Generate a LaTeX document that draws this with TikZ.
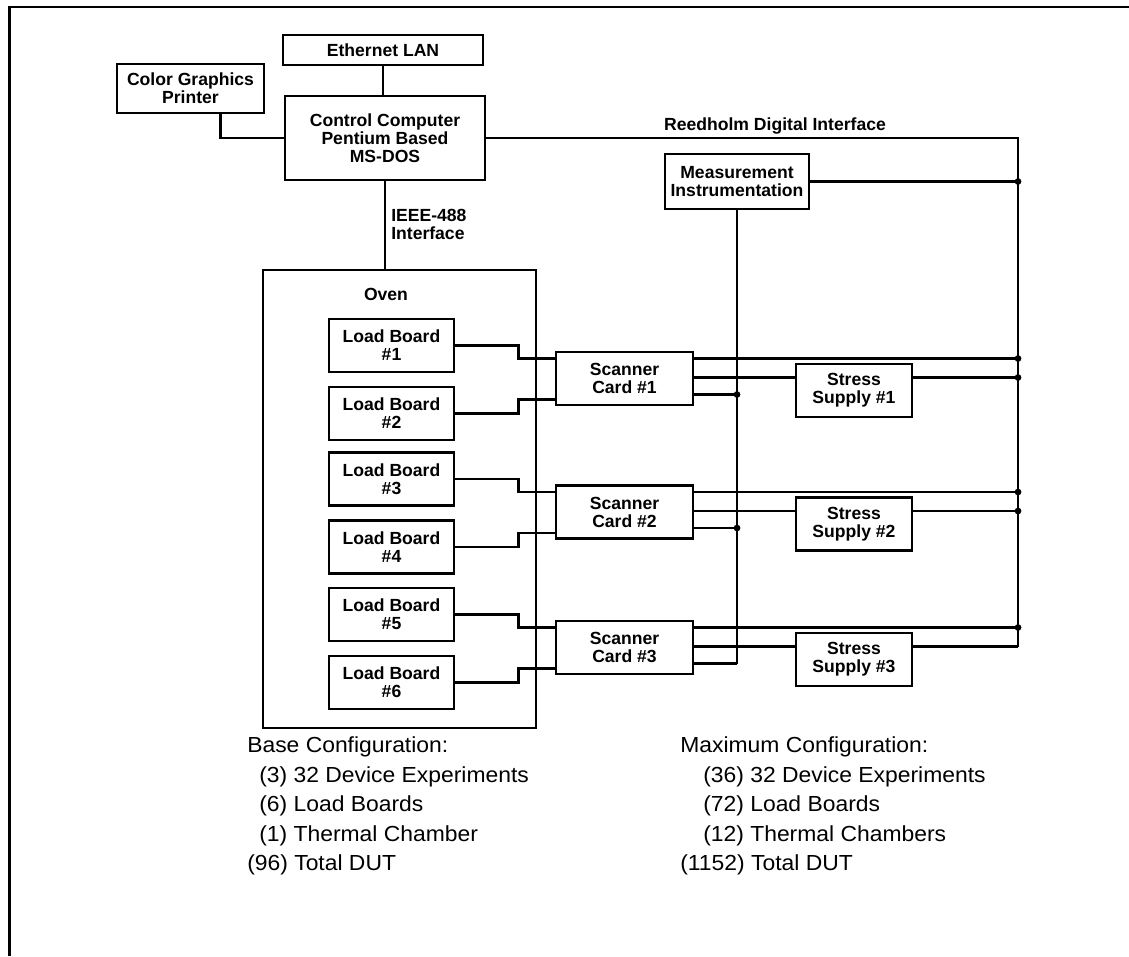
\documentclass[tikz,border=0pt]{standalone}
\usepackage{fontspec}
\setsansfont{Liberation Sans}
\newfontfamily\notefont[FakeStretch=1.05]{Liberation Sans}
\usetikzlibrary{calc}

\begin{document}
\begin{tikzpicture}[x=0.025cm, y=-0.025cm, line width=1.8pt,
  blk/.style={draw, align=center, inner sep=0pt,
    font=\sffamily\bfseries\fontsize{12.5}{12.8}\selectfont},
  lbl/.style={align=left, inner sep=0pt,
    font=\sffamily\bfseries\fontsize{12.5}{12.8}\selectfont},
  lbox/.style={blk, minimum width=3.125cm, minimum height=1.325cm},
  scbox/.style={blk, minimum width=3.425cm, minimum height=1.325cm},
  ssbox/.style={blk, minimum width=2.9cm, minimum height=1.325cm},
  note/.style={inner sep=0pt, anchor=base west,
    font=\notefont\fontsize{15.5}{18}\selectfont}]
  \useasboundingbox (0,0) rectangle (1129,956);
  % page frame
  \draw[line width=2pt] (9.5,956) -- (9.5,7) -- (1129,7);

  % top row
  \node[blk, minimum width=5cm, minimum height=0.75cm] (eth) at (383,50) {Ethernet LAN};
  \node[blk, minimum width=3.675cm, minimum height=1.225cm] (prn) at (190.5,88.5) {Color Graphics\\Printer};
  \node[blk, minimum width=5cm, minimum height=2.1cm] (cc) at (385,138) {Control Computer\\Pentium Based\\MS-DOS};
  \node[blk, minimum width=3.6cm, minimum height=1.375cm] (meas) at (737,181.5) {Measurement\\Instrumentation};
  \draw (eth.south) -- (eth.south |- cc.north);
  \draw ([xshift=0.75cm]prn.south) |- (cc.west);

  % oven
  \node[draw, minimum width=6.825cm, minimum height=11.45cm] (oven) at (399.5,499) {};
  \node[lbl] (ovenlbl) at (386,294) {Oven};
  \draw (cc.south) -- (cc.south |- oven.north);
  \node[lbl, anchor=west] (ieee) at (390,224) {IEEE-488\\Interface};

  % digital interface bus
  \coordinate (bus) at (1018,646.5);
  \draw (cc.east) -- (cc.east -| bus) -- (bus);
  \node[lbl] (rdi) at (775,126) {Reedholm Digital Interface};
  \draw (meas.east) -- (meas.east -| bus);
  \fill (meas.east -| bus) circle[radius=2.4pt];

  % load boards, scanner cards, stress supplies
  \foreach \k/\c in {1/378.5, 2/512, 3/647.5} {
    \pgfmathtruncatemacro\ua{2*\k-1}
    \pgfmathtruncatemacro\ub{2*\k}
    \node[lbox] (lb\ua) at (391.5,{\c-33}) {Load Board\\\#\ua};
    \node[lbox] (lb\ub) at (391.5,{\c+35}) {Load Board\\\#\ub};
    \node[scbox] (sc\k) at (624.5,\c) {Scanner\\Card \#\k};
    \node[ssbox] (ss\k) at (854,{\c+12}) {Stress\\Supply \#\k};
    \coordinate (sc\k-oa) at ($(sc\k.east)+(0,-20)$);
    \coordinate (sc\k-ob) at ($(sc\k.east)+(0,-1)$);
    \coordinate (sc\k-oc) at ($(sc\k.east)+(0,16)$);
    \coordinate (ss\k-p) at ($(ss\k.east)+(0,-13)$);
    \draw (lb\ua.east) -- ++(63,0) |- ($(sc\k.west)+(0,-20)$);
    \draw (lb\ub.east) -- ++(63,0) |- ($(sc\k.west)+(0,21)$);
    \draw (sc\k-oa) -- (sc\k-oa -| bus);
    \fill (sc\k-oa -| bus) circle[radius=2.4pt];
    \draw (sc\k-ob) -- (sc\k-ob -| ss\k.west);
    \draw (ss\k-p) -- (ss\k-p -| bus);
    \draw (sc\k-oc) -- (sc\k-oc -| meas);
  }
  \fill (ss1-p -| bus) circle[radius=2.4pt];
  \fill (ss2-p -| bus) circle[radius=2.4pt];
  \draw (meas.south) -- (meas.south |- sc3-oc);
  \fill (sc1-oc -| meas) circle[radius=2.4pt];
  \fill (sc2-oc -| meas) circle[radius=2.4pt];

  % configuration notes
  \foreach \x/\t [count=\i] in {246/Base Configuration:, 258/(3) 32 Device Experiments,
      258/(6) Load Boards, 258/(1) Thermal Chamber, 246/(96) Total DUT}
    \node[note] (basecfg\i) at (\x,{723+29.5*\i}) {\t};
  \foreach \x/\t [count=\i] in {679/Maximum Configuration:, 702/(36) 32 Device Experiments,
      702/(72) Load Boards, 702/(12) Thermal Chambers, 679/(1152) Total DUT}
    \node[note] (maxcfg\i) at (\x,{723+29.5*\i}) {\t};
\end{tikzpicture}
\end{document}
